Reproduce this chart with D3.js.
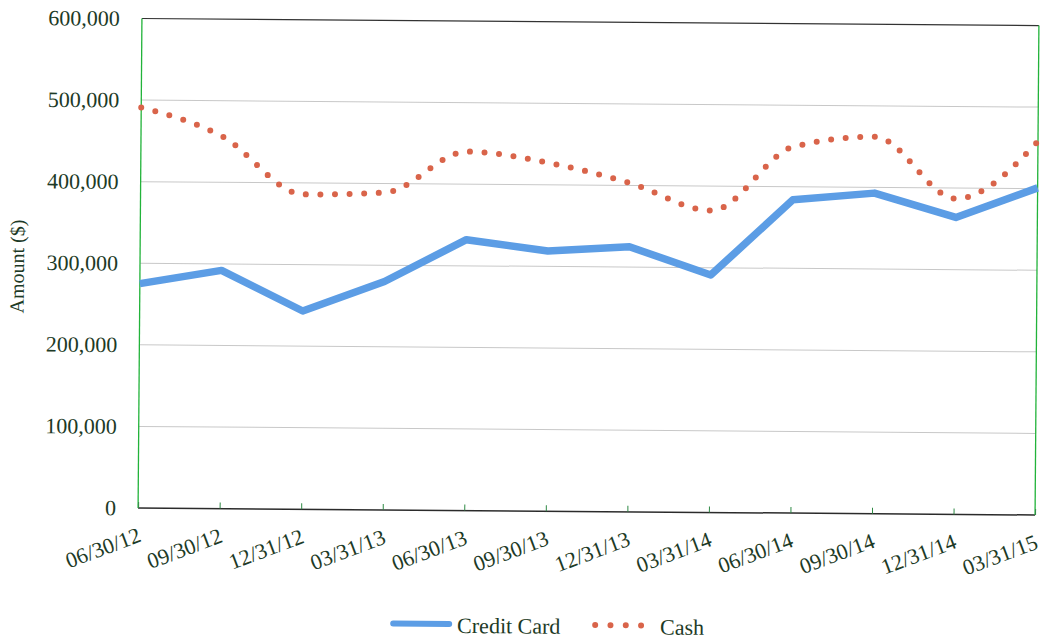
<!DOCTYPE html>
<html>
<head>
<meta charset="utf-8">
<script src="https://cdn.jsdelivr.net/npm/d3@7"></script>
<style>
  html, body { margin: 0; padding: 0; background: #fff; }
  svg { display: block; }
  text { font-family: "Liberation Serif", "Times New Roman", serif; fill: #1d3a26; }
</style>
</head>
<body>
<svg id="chart" width="1044" height="639"></svg>
<script>
// Quarter-end dates
const quarters = ["06/30/12", "09/30/12", "12/31/12", "03/31/13", "06/30/13", "09/30/13",
                  "12/31/13", "03/31/14", "06/30/14", "09/30/14", "12/31/14", "03/31/15"];
// Amounts ($) per quarter
const creditCard = [275000, 292000, 243000, 280000, 332000, 319000,
                    325000, 291000, 384000, 393000, 364000, 401000];
const cash = [491000, 456000, 386000, 389000, 440000, 427000,
              403000, 370000, 449000, 462000, 387000, 458000];
const yTicks = [0, 100000, 200000, 300000, 400000, 500000, 600000];

const svg = d3.select("#chart");
const plotLeft = 140, plotRight = 1037, plotTop = 22, plotBottom = 511.5;
const FONT = "Liberation Serif, serif";

// the whole page sits a touch askew
const g = svg.append("g").attr("transform", "rotate(0.45, 588, 266)");

const x = d3.scalePoint().domain(quarters).range([plotLeft, plotRight]);
const y = d3.scaleLinear().domain([0, 600000]).range([plotBottom, plotTop]);

// horizontal gridlines
g.append("g").selectAll("line").data(yTicks.filter(d => d > 0 && d < 600000)).join("line")
  .attr("x1", plotLeft).attr("x2", plotRight)
  .attr("y1", d => y(d)).attr("y2", d => y(d))
  .attr("stroke", "#c8c8c8").attr("stroke-width", 1);

// frame: top / bottom dark, sides green
g.append("line").attr("x1", plotLeft).attr("x2", plotRight).attr("y1", plotTop).attr("y2", plotTop)
  .attr("stroke", "#333").attr("stroke-width", 1.2);
g.append("line").attr("x1", plotLeft).attr("x2", plotRight).attr("y1", plotBottom).attr("y2", plotBottom)
  .attr("stroke", "#2b2b2b").attr("stroke-width", 1.5);
g.append("line").attr("x1", plotLeft).attr("x2", plotLeft).attr("y1", plotTop).attr("y2", plotBottom)
  .attr("stroke", "#22b33a").attr("stroke-width", 1.3);
g.append("line").attr("x1", plotRight).attr("x2", plotRight).attr("y1", plotTop).attr("y2", plotBottom)
  .attr("stroke", "#22b33a").attr("stroke-width", 1.3);

// y axis labels
const yAxis = d3.axisLeft(y).tickValues(yTicks).tickSize(0).tickPadding(22)
  .tickFormat(d3.format(","));
g.append("g").attr("transform", `translate(${plotLeft},0)`).call(yAxis)
  .call(a => a.select(".domain").remove())
  .selectAll("text").style("font-size", "22px").attr("dy", "0.32em")
  .style("font-family", FONT).attr("fill", "#1d3a26");

// x axis: small inward ticks and slanted labels
const xAxis = d3.axisBottom(x).tickSize(-6).tickPadding(0);
const xa = g.append("g").attr("transform", `translate(0,${plotBottom})`).call(xAxis);
xa.select(".domain").remove();
xa.selectAll(".tick line").attr("stroke", "#2f8a45").attr("stroke-width", 1);
xa.selectAll(".tick text")
  .style("font-size", "22px").style("font-family", FONT)
  .attr("fill", "#1d3a26")
  .attr("text-anchor", "end")
  .attr("transform", "translate(4,33) rotate(-21)")
  .attr("x", 0).attr("y", 0).attr("dy", 0);

// y axis title
g.append("text")
  .attr("transform", "translate(24,271) rotate(-90)")
  .attr("text-anchor", "middle")
  .style("font-size", "20px")
  .text("Amount ($)");

// Credit Card line
const straight = d3.line().x((d, i) => x(quarters[i])).y(d => y(d));
g.append("path").datum(creditCard)
  .attr("d", straight)
  .attr("fill", "none").attr("stroke", "#5c9de5").attr("stroke-width", 7.5)
  .attr("stroke-linejoin", "round");

// Cash line, smoothed and dotted
const smooth = d3.line().x((d, i) => x(quarters[i])).y(d => y(d)).curve(d3.curveMonotoneX);
g.append("path").datum(cash)
  .attr("d", smooth)
  .attr("fill", "none").attr("stroke", "#d9644a").attr("stroke-width", 6)
  .attr("stroke-linecap", "round").attr("stroke-dasharray", "0 14.6");

// legend
const legY = 625;
g.append("line").attr("x1", 396).attr("x2", 452).attr("y1", legY).attr("y2", legY)
  .attr("stroke", "#5c9de5").attr("stroke-width", 6).attr("stroke-linecap", "round");
g.append("text").attr("x", 460).attr("y", legY + 9).style("font-size", "22px").text("Credit Card");
g.append("line").attr("x1", 598).attr("x2", 644).attr("y1", legY).attr("y2", legY)
  .attr("stroke", "#d9644a").attr("stroke-width", 6).attr("stroke-linecap", "round")
  .attr("stroke-dasharray", "0 15.3");
g.append("text").attr("x", 663).attr("y", legY + 9).style("font-size", "22px").text("Cash");
</script>
</body>
</html>
